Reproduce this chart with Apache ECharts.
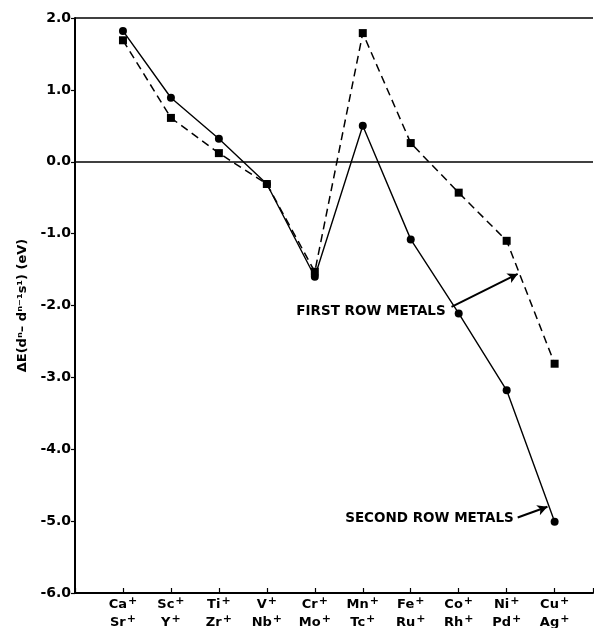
<!DOCTYPE html>
<html>
<head>
<meta charset="utf-8">
<script src="https://cdn.jsdelivr.net/npm/echarts@6/dist/echarts.min.js"></script>
<style>html,body{margin:0;padding:0;background:#fff;}#c{width:594px;height:628px;}</style>
</head>
<body>
<div id="c"></div>
<script>
const topIons = ['Ca','Sc','Ti','V','Cr','Mn','Fe','Co','Ni','Cu'];
const bottomIons = ['Sr','Y','Zr','Nb','Mo','Tc','Ru','Rh','Pd','Ag'];
const firstRow = [1.69, 0.61, 0.12, -0.31, -1.53, 1.79, 0.26, -0.43, -1.10, -2.81];
const secondRow = [1.82, 0.89, 0.32, -0.31, -1.60, 0.50, -1.08, -2.11, -3.18, -5.01];
const yTicks = [-6, -5, -4, -3, -2, -1, 0, 1, 2];

const font = 'DejaVu Sans';
const chart = echarts.init(document.getElementById('c'), null, {renderer: 'canvas'});
chart.setOption({
  backgroundColor: '#fff',
  animation: false,
  grid: {left: 75, right: 1, top: 18, bottom: 35, outerBoundsMode: 'none', containLabel: false},
  xAxis: {
    type: 'value', min: -1, max: 9.8, interval: 1,
    axisLine: {show: true, onZero: false, lineStyle: {color: '#000', width: 2}},
    axisTick: {show: true, inside: true, length: 5, lineStyle: {color: '#000', width: 1.2}},
    splitLine: {show: false},
    axisLabel: {
      color: '#000', fontFamily: font, fontSize: 13, fontWeight: 'bold', margin: 3,
      formatter: v => {
        const i = Math.round(v);
        if (v < 0 || i >= topIons.length || Math.abs(v - i) > 1e-6) return '';
        return '{m|' + topIons[i] + '}{s|+}\n{m|' + bottomIons[i] + '}{s|+}';
      },
      rich: {
        m: {fontFamily: font, fontSize: 13, fontWeight: 'bold', color: '#000', lineHeight: 18},
        s: {fontFamily: font, fontSize: 11, fontWeight: 'bold', color: '#000', lineHeight: 18, padding: [0, 0, 7, 1]}
      }
    }
  },
  yAxis: {
    type: 'value', min: -6, max: 2, interval: 1,
    name: 'ΔE(dⁿ– dⁿ⁻¹s¹) (eV)', nameLocation: 'middle', nameRotate: 90, nameGap: 46,
    nameTextStyle: {color: '#000', fontFamily: font, fontSize: 13, fontWeight: 'bold'},
    axisLine: {show: true, onZero: false, lineStyle: {color: '#000', width: 2}},
    axisTick: {show: true, length: 4, lineStyle: {color: '#000', width: 1.2}},
    splitLine: {show: false},
    axisLabel: {color: '#000', fontFamily: font, fontSize: 14, fontWeight: 'bold', margin: 4,
      formatter: v => yTicks.includes(v) ? v.toFixed(1) : ''}
  },
  series: [
    {
      name: 'First row metals', type: 'line',
      data: firstRow.map((v, i) => [i, v]),
      symbol: 'rect', symbolSize: 8, showSymbol: true,
      itemStyle: {color: '#000'},
      lineStyle: {color: '#000', width: 1.5, type: [8, 5]},
      z: 3,
      markLine: {
        silent: true, symbol: ['none', 'none'],
        label: {show: false},
        lineStyle: {color: '#000', width: 1.5, type: 'solid'},
        data: [{yAxis: 0}, {yAxis: 2}]
      }
    },
    {
      name: 'Second row metals', type: 'line',
      data: secondRow.map((v, i) => [i, v]),
      symbol: 'circle', symbolSize: 8, showSymbol: true,
      itemStyle: {color: '#000'},
      lineStyle: {color: '#000', width: 1.4, type: 'solid'},
      z: 4,
      markLine: {
        silent: true, symbol: ['none', 'arrow'], symbolSize: [8, 10],
        label: {show: false},
        lineStyle: {color: '#000', width: 2, type: 'solid'},
        data: [
          [{coord: [6.85, -2.02]}, {coord: [8.23, -1.56]}],
          [{coord: [8.23, -4.95]}, {coord: [8.85, -4.80]}]
        ]
      },
      markPoint: {
        silent: true, symbol: 'circle', symbolSize: 1, itemStyle: {color: 'rgba(0,0,0,0)'},
        label: {show: true, position: 'left', distance: 2, color: '#000', fontFamily: font, fontSize: 13.5, fontWeight: 'bold'},
        data: [
          {coord: [6.78, -2.08], value: 'FIRST ROW METALS', label: {formatter: 'FIRST ROW METALS'}},
          {coord: [8.2, -4.97], value: 'SECOND ROW METALS', label: {formatter: 'SECOND ROW METALS'}}
        ]
      }
    }
  ]
});
</script>
</body>
</html>
